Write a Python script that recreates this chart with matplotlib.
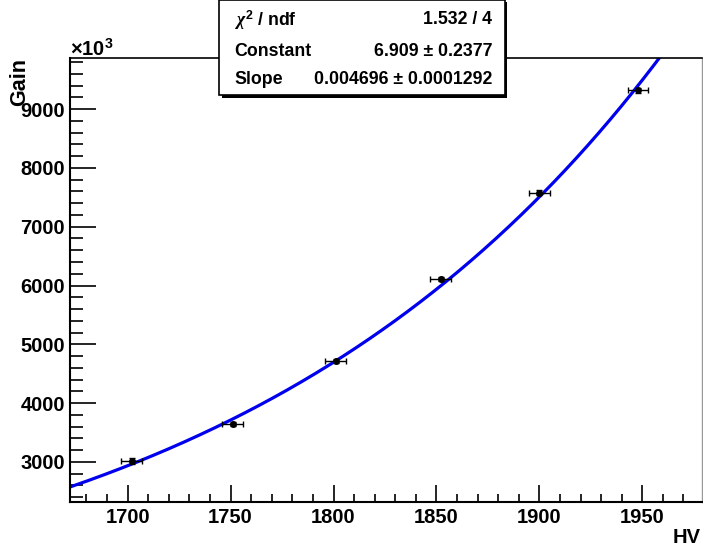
import numpy as np
import matplotlib
matplotlib.use("Agg")
import matplotlib.pyplot as plt
from matplotlib.patches import Rectangle
from matplotlib.ticker import MultipleLocator

plt.rcParams['font.family'] = ['Liberation Sans', 'DejaVu Sans']
plt.rcParams['font.weight'] = 'bold'
plt.rcParams['mathtext.fontset'] = 'custom'
plt.rcParams['mathtext.rm'] = 'Liberation Sans:bold'
plt.rcParams['mathtext.bf'] = 'Liberation Sans:bold'
plt.rcParams['mathtext.it'] = 'Liberation Serif:italic'

# Data (gain in units of 10^3)
hv = [1702, 1751, 1801, 1852, 1900, 1948]
gain = [3017, 3647, 4715, 6112, 7577, 9320]
hv_err = [5, 5, 5, 5, 5, 5]
gain_err = [50, 40, 40, 30, 40, 40]

# Fit result: exp(constant + slope * x)
fit_constant = 6.909
fit_slope = 0.004696

W, H = 703, 549
fig = plt.figure(figsize=(W / 100, H / 100), dpi=100)
ax = fig.add_axes([70 / W, 1 - 502 / H, (702 - 70) / W, (502 - 58) / H])

xs = np.linspace(1672, 1979, 400)
ax.plot(xs, np.exp(fit_constant + fit_slope * xs) / 1000, color='#0000ee', lw=2.3, zorder=2)
ax.errorbar(hv, gain, xerr=hv_err, yerr=gain_err, fmt='o', color='black', ms=4,
            elinewidth=1.0, capsize=2, capthick=1.0, zorder=3)

ax.set_xlim(1672, 1979)
ax.set_ylim(2318, 9870)

ax.xaxis.set_major_locator(MultipleLocator(50))
ax.xaxis.set_minor_locator(MultipleLocator(10))
ax.yaxis.set_major_locator(MultipleLocator(1000))
ax.yaxis.set_minor_locator(MultipleLocator(200))
ax.tick_params(axis='x', which='major', direction='in', length=12, width=1.2, labelsize=14.5, pad=4.5, top=False)
ax.tick_params(axis='x', which='minor', direction='in', length=6, width=1.2, top=False)
ax.tick_params(axis='y', which='major', direction='in', length=19, width=1.2, labelsize=14.5, pad=3.5, right=False)
ax.tick_params(axis='y', which='minor', direction='in', length=9, width=1.2, right=False)
for lbl in ax.get_xticklabels() + ax.get_yticklabels():
    lbl.set_fontweight('bold')

ax.spines['left'].set_linewidth(1.5)
ax.spines['bottom'].set_linewidth(1.5)
ax.spines['top'].set_linewidth(1.2)
ax.spines['right'].set_color('#999999')
ax.spines['right'].set_linewidth(1.0)

fig.text(70 / W, 1 - 56 / H, r'$\times\mathrm{10^{3}}$', fontsize=14.5, ha='left', va='baseline')
fig.text(20 / W, 1 - 58 / H, 'Gain', rotation=90, fontsize=15.5, fontweight='bold', ha='center', va='top')
fig.text(701 / W, 1 - 547 / H, 'HV', fontsize=14.5, fontweight='bold', ha='right', va='bottom')

# Stats box with shadow
fig.patches.append(Rectangle((222 / W, 1 - 98 / H), (507 - 222) / W, 96 / H, transform=fig.transFigure,
                             facecolor='black', edgecolor='none', zorder=5))
fig.patches.append(Rectangle((219 / W, 1 - 95 / H), (505 - 219) / W, 95 / H, transform=fig.transFigure,
                             facecolor='white', edgecolor='black', lw=1.2, zorder=6))
rows = [(r'$\chi^{2}$ / ndf', '1.532 / 4', 20),
        ('Constant', '6.909 \u00b1 0.2377', 52),
        ('Slope', '0.004696 \u00b1 0.0001292', 80)]
for left, right, y in rows:
    fig.text(234 / W, 1 - y / H, left, fontsize=12.8, fontweight='bold', ha='left', va='center', zorder=7)
    fig.text(492 / W, 1 - y / H, right, fontsize=12.8, fontweight='bold', ha='right', va='center', zorder=7)

fig.savefig('out.png', dpi=100)
